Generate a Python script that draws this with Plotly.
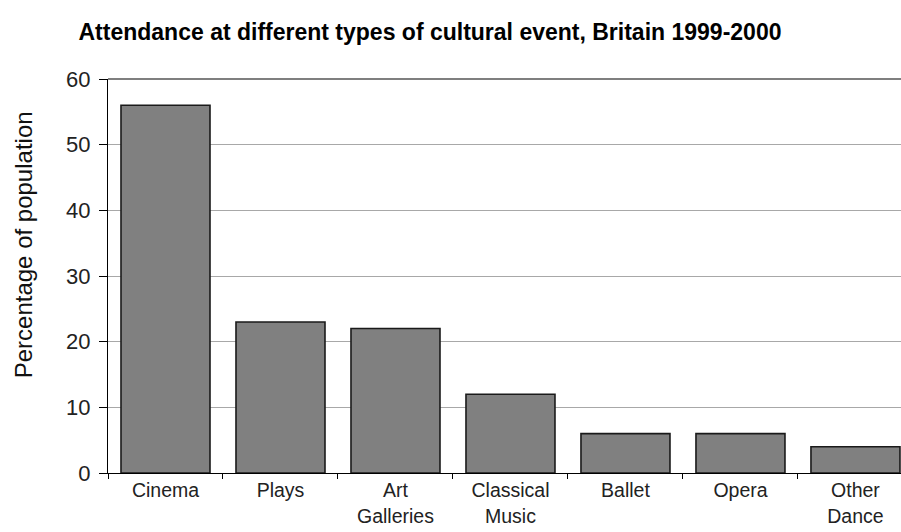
import plotly.graph_objects as go

categories = ["Cinema", "Plays", "Art<br>Galleries", "Classical<br>Music", "Ballet", "Opera", "Other<br>Dance"]
values = [56, 23, 22, 12, 6, 6, 4]
y_ticks = [0, 10, 20, 30, 40, 50, 60]

fig = go.Figure()
fig.add_trace(go.Bar(
    x=categories, y=values,
    marker=dict(color="#808080", line=dict(color="#1a1a1a", width=1.6)),
    hoverinfo="skip",
))

fig.update_layout(
    width=901, height=532,
    margin=dict(l=108, r=0, t=79, b=58.5),
    paper_bgcolor="white", plot_bgcolor="white",
    bargap=0.226,
    showlegend=False,
    font=dict(family="Liberation Sans, Arial, sans-serif", color="#111"),
    title=dict(
        text="<b>Attendance at different types of cultural event, Britain 1999-2000</b>",
        font=dict(family="Liberation Sans, Arial, sans-serif", size=23, color="#000"),
        x=430 / 901, xanchor="center", xref="container",
        y=1 - 32 / 532, yanchor="middle", yref="container",
    ),
    xaxis=dict(
        range=[-0.5, 6.396],
        showgrid=False,
        showline=True, linecolor="#000", linewidth=1,
        ticks="outside", ticklen=5, tickcolor="#000", tickwidth=1,
        tickson="boundaries",
        tickfont=dict(size=19.5, color="#222"),
        fixedrange=True,
    ),
    yaxis=dict(
        range=[0, 60],
        tickvals=y_ticks,
        showgrid=True, gridcolor="#a8a8a8", gridwidth=1,
        showline=True, linecolor="#000", linewidth=1,
        ticks="outside", ticklen=8, tickcolor="#000", tickwidth=1,
        tickfont=dict(size=22, color="#222"),
        ticklabelstandoff=4,
        zeroline=False,
        fixedrange=True,
    ),
    annotations=[dict(
        text="Percentage of population", textangle=-90,
        xref="paper", yref="paper",
        x=-(108 - 23) / 793, y=(473.5 - 245.5) / 394.5,
        xanchor="center", yanchor="middle", showarrow=False,
        font=dict(size=24, color="#111"),
    )],
    shapes=[dict(type="line", xref="x domain", yref="y domain", x0=0, x1=1, y0=1, y1=1,
                 line=dict(color="#555", width=1.5))],
)

fig.write_html("out.html")
